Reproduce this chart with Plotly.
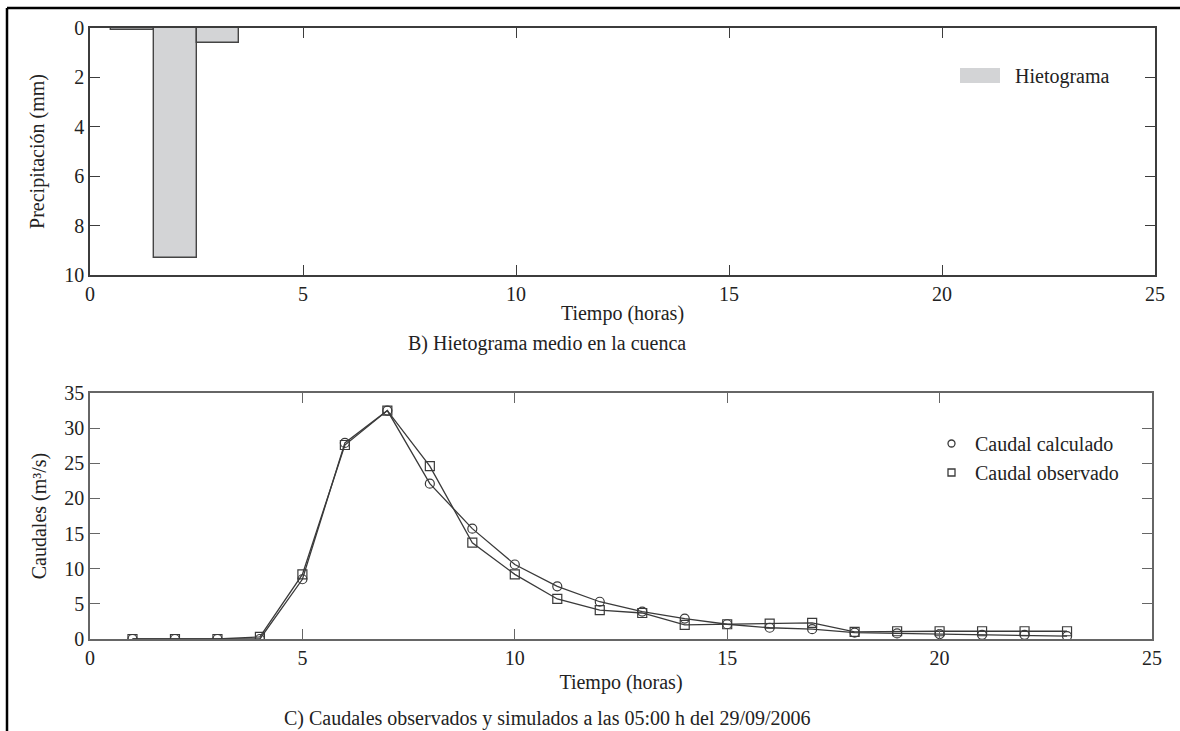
import plotly.graph_objects as go

# Hyetograph (mean basin precipitation per hour)
rain_hours = [1, 2, 3]
rain_mm = [0.1, 9.3, 0.6]

# Discharge hydrographs
q_hours = list(range(1, 24))
q_calc = [0.0, 0.0, 0.0, 0.0, 8.5, 27.9, 32.5, 22.1, 15.7, 10.6, 7.5, 5.3,
          3.9, 2.9, 2.1, 1.6, 1.4, 0.9, 0.8, 0.7, 0.6, 0.6, 0.4]
q_obs = [0.0, 0.0, 0.0, 0.3, 9.2, 27.6, 32.5, 24.6, 13.7, 9.2, 5.7, 4.1,
         3.7, 2.0, 2.1, 2.2, 2.3, 1.0, 1.1, 1.1, 1.1, 1.1, 1.1]

x_ticks = [0, 5, 10, 15, 20, 25]

FONT = "Liberation Serif"
TXT = "#222222"
W, H = 1180, 731
ML, MR, MT, MB = 90, 25, 28, 92
PW, PH = W - ML - MR, H - MT - MB


def px(x):
    return (x - ML) / PW


def py(y):
    return (H - MB - y) / PH


fig = go.Figure()

fig.add_trace(go.Bar(
    x=rain_hours, y=rain_mm, width=1.0,
    marker=dict(color="#d3d4d6", line=dict(color="#444444", width=1.4)),
    xaxis="x", yaxis="y", showlegend=False, name="Hietograma",
))

line_col = "#3a3a3a"
fig.add_trace(go.Scatter(
    x=q_hours, y=q_calc, mode="lines+markers", name="Caudal calculado",
    line=dict(color=line_col, width=1.3),
    marker=dict(symbol="circle-open", size=9, color=line_col, line=dict(width=1.2)),
    xaxis="x2", yaxis="y2", showlegend=False,
))
fig.add_trace(go.Scatter(
    x=q_hours, y=q_obs, mode="lines+markers", name="Caudal observado",
    line=dict(color=line_col, width=1.3),
    marker=dict(symbol="square-open", size=9, color=line_col, line=dict(width=1.2)),
    xaxis="x2", yaxis="y2", showlegend=False,
))
# marker-only legend entries
for name, sym in [("Caudal calculado", "circle-open"), ("Caudal observado", "square-open")]:
    fig.add_trace(go.Scatter(
        x=[None], y=[None], mode="markers", name=name,
        marker=dict(symbol=sym, size=7, color=line_col, line=dict(width=1.3)),
        xaxis="x2", yaxis="y2", showlegend=True,
    ))

axis_common = dict(
    showline=True, mirror="ticks", ticks="inside", ticklen=10, tickwidth=1.4,
    showgrid=False, zeroline=False,
    tickfont=dict(family=FONT, size=20, color=TXT),
    title_font=dict(family=FONT, size=20, color=TXT),
)

top_line = "#3c3c3c"
bot_line = "#666666"

fig.update_layout(
    width=W, height=H,
    margin=dict(l=ML, r=MR, t=MT, b=MB),
    paper_bgcolor="white", plot_bgcolor="white",
    bargap=0,
    xaxis=dict(domain=[0, 1], anchor="y", range=[0, 25], tickvals=x_ticks,
               linecolor=top_line, tickcolor=top_line, linewidth=1.6,
               title=dict(text="Tiempo (horas)", standoff=2), **axis_common),
    yaxis=dict(domain=[py(275), 1], anchor="x", range=[10, 0], dtick=2,
               linecolor=top_line, tickcolor=top_line, linewidth=1.6,
               title=dict(text="Precipitación (mm)", standoff=14), **axis_common),
    xaxis2=dict(domain=[0, px(1152)], anchor="y2", range=[0, 25], tickvals=x_ticks,
                linecolor=bot_line, tickcolor=bot_line, linewidth=1.6,
                title=dict(text="Tiempo (horas)", standoff=7), **axis_common),
    yaxis2=dict(domain=[0, py(393)], anchor="x2", range=[0, 35], dtick=5,
                linecolor=bot_line, tickcolor=bot_line, linewidth=1.6,
                title=dict(text="Caudales (m³/s)", standoff=12), **axis_common),
    legend=dict(x=px(928), y=py(424), xanchor="left", yanchor="top",
                bgcolor="rgba(0,0,0,0)", borderwidth=0,
                font=dict(family=FONT, size=20, color=TXT),
                itemwidth=37, tracegroupgap=0),
    font=dict(family=FONT, color=TXT),
)

# Hyetograph legend swatch and label
fig.add_shape(type="rect", xref="paper", yref="paper",
              x0=px(960), x1=px(1000), y0=py(83), y1=py(68),
              fillcolor="#d3d4d6", line=dict(width=0))
fig.add_annotation(xref="paper", yref="paper", x=px(1013), y=py(76),
                   xanchor="left", yanchor="middle", showarrow=False,
                   text="Hietograma", font=dict(family=FONT, size=20, color=TXT))

# Panel captions
fig.add_annotation(xref="paper", yref="paper", x=px(547), y=py(344),
                   xanchor="center", yanchor="middle", showarrow=False,
                   text="B) Hietograma medio en la cuenca",
                   font=dict(family=FONT, size=20, color=TXT))
fig.add_annotation(xref="paper", yref="paper", x=px(547), y=py(718),
                   xanchor="center", yanchor="middle", showarrow=False,
                   text="C) Caudales observados y simulados a las 05:00 h del 29/09/2006",
                   font=dict(family=FONT, size=20, color=TXT))

# Page frame (left and top rules)
fig.add_shape(type="line", xref="paper", yref="paper",
              x0=px(7), x1=px(7), y0=py(8), y1=py(H + 5),
              line=dict(color="black", width=2.5))
fig.add_shape(type="line", xref="paper", yref="paper",
              x0=px(7), x1=px(W + 5), y0=py(8), y1=py(8),
              line=dict(color="black", width=2.5))

fig.write_html("out.html")
